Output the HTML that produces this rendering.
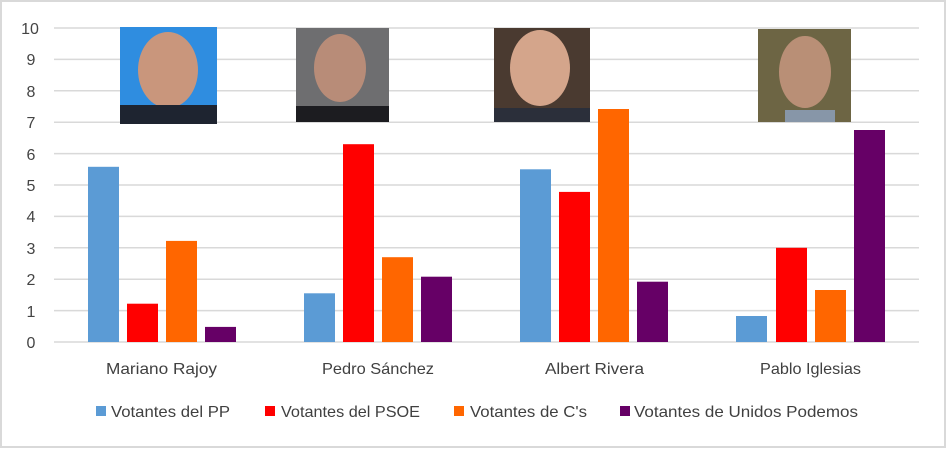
<!DOCTYPE html>
<html><head><meta charset="utf-8"><style>
html,body{margin:0;padding:0;background:#fff;}
svg{display:block;font-family:"Liberation Sans","DejaVu Sans",sans-serif;}
</style></head><body>
<svg width="947" height="449" viewBox="0 0 947 449">
<rect x="1" y="1" width="944" height="446" fill="#fff" stroke="#d9d9d9" stroke-width="2"/>
<g stroke="#d9d9d9" stroke-width="1.5">
<line x1="54" x2="919" y1="28" y2="28"/><line x1="54" x2="919" y1="59.4" y2="59.4"/>
<line x1="54" x2="919" y1="90.8" y2="90.8"/><line x1="54" x2="919" y1="122.2" y2="122.2"/>
<line x1="54" x2="919" y1="153.6" y2="153.6"/><line x1="54" x2="919" y1="185" y2="185"/>
<line x1="54" x2="919" y1="216.4" y2="216.4"/><line x1="54" x2="919" y1="247.8" y2="247.8"/>
<line x1="54" x2="919" y1="279.2" y2="279.2"/><line x1="54" x2="919" y1="310.6" y2="310.6"/>
<line x1="54" x2="919" y1="342" y2="342"/>
</g>
<g font-size="16" fill="#444" text-anchor="middle">
<text x="30" y="34">10</text><text x="31" y="65">9</text><text x="31" y="97">8</text><text x="31" y="128">7</text>
<text x="31" y="160">6</text><text x="31" y="191">5</text><text x="31" y="222">4</text><text x="31" y="254">3</text>
<text x="31" y="285">2</text><text x="31" y="317">1</text><text x="31" y="348">0</text>
</g>
<rect x="120" y="27" width="97" height="97" fill="#2f8de0"/>
<ellipse cx="168" cy="70" rx="30" ry="38" fill="#c9967c"/><rect x="120" y="105" width="97" height="19" fill="#1e2430"/>
<rect x="296" y="28" width="93" height="94" fill="#6e6e70"/>
<ellipse cx="340" cy="68" rx="26" ry="34" fill="#b88c78"/><rect x="296" y="106" width="93" height="16" fill="#1c1c20"/>
<rect x="494" y="28" width="96" height="94" fill="#4a3a30"/>
<ellipse cx="540" cy="68" rx="30" ry="38" fill="#d4a58b"/><rect x="494" y="108" width="96" height="14" fill="#2b2f3a"/>
<rect x="758" y="29" width="93" height="93" fill="#6d6544"/>
<ellipse cx="805" cy="72" rx="26" ry="36" fill="#b98f76"/><rect x="785" y="110" width="50" height="12" fill="#8796a8"/>
<g>
<rect x="88" y="166.8" width="31" height="175.2" fill="#5b9bd5"/>
<rect x="127" y="303.7" width="31" height="38.3" fill="#ff0000"/>
<rect x="166" y="240.9" width="31" height="101.1" fill="#ff6600"/>
<rect x="205" y="326.9" width="31" height="15.1" fill="#660066"/>
<rect x="304" y="293.3" width="31" height="48.7" fill="#5b9bd5"/>
<rect x="343" y="144.2" width="31" height="197.8" fill="#ff0000"/>
<rect x="382" y="257.2" width="31" height="84.8" fill="#ff6600"/>
<rect x="421" y="276.7" width="31" height="65.3" fill="#660066"/>
<rect x="520" y="169.3" width="31" height="172.7" fill="#5b9bd5"/>
<rect x="559" y="191.9" width="31" height="150.1" fill="#ff0000"/>
<rect x="598" y="109" width="31" height="233" fill="#ff6600"/>
<rect x="637" y="281.7" width="31" height="60.3" fill="#660066"/>
<rect x="736" y="316" width="31" height="26" fill="#5b9bd5"/>
<rect x="776" y="247.8" width="31" height="94.2" fill="#ff0000"/>
<rect x="815" y="290" width="31" height="52" fill="#ff6600"/>
<rect x="854" y="130" width="31" height="212" fill="#660066"/>
</g>
<g font-size="16" fill="#404040">
<text x="106" y="374" textLength="111" lengthAdjust="spacingAndGlyphs">Mariano Rajoy</text>
<text x="322" y="374" textLength="112" lengthAdjust="spacingAndGlyphs">Pedro Sánchez</text>
<text x="545" y="374" textLength="99" lengthAdjust="spacingAndGlyphs">Albert Rivera</text>
<text x="760" y="374" textLength="101" lengthAdjust="spacingAndGlyphs">Pablo Iglesias</text>
</g>
<g font-size="16" fill="#404040">
<rect x="96" y="406" width="10" height="10" fill="#5b9bd5"/><text x="111" y="417" textLength="119" lengthAdjust="spacingAndGlyphs">Votantes del PP</text>
<rect x="265" y="406" width="10" height="10" fill="#ff0000"/><text x="281" y="417" textLength="139" lengthAdjust="spacingAndGlyphs">Votantes del PSOE</text>
<rect x="454" y="406" width="10" height="10" fill="#ff6600"/><text x="470" y="417" textLength="117" lengthAdjust="spacingAndGlyphs">Votantes de C's</text>
<rect x="620" y="406" width="10" height="10" fill="#660066"/><text x="634" y="417" textLength="224" lengthAdjust="spacingAndGlyphs">Votantes de Unidos Podemos</text>
</g>
</svg>
</body></html>
